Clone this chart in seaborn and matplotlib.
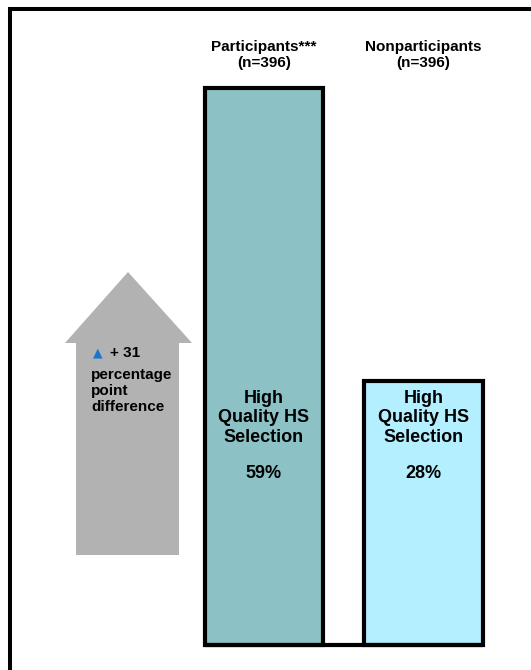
import pandas as pd
import seaborn as sns
import matplotlib.pyplot as plt
import matplotlib.transforms as mtransforms
from matplotlib.patches import Polygon
from matplotlib.lines import Line2D

groups = ['Participants***\n(n=396)', 'Nonparticipants\n(n=396)']
pct = [59, 28]
bar_text = 'High\nQuality HS\nSelection'
diff_value = '+ 31'
diff_text = 'percentage\npoint\ndifference'
colors = ['#8CC2C5', '#B3EFFF']

df = pd.DataFrame({'group': groups, 'pct': pct})

sns.set_style('white')
plt.rcParams['font.family'] = ['Liberation Sans', 'DejaVu Sans']
plt.rcParams['text.color'] = 'black'

W, H = 531, 670
fig = plt.figure(figsize=(W / 100, H / 100), dpi=100)
ax = fig.add_axes([0, 0, 1, 1])
sns.barplot(data=df, x='group', y='pct', hue='group', palette=colors, saturation=1,
            width=0.74, edgecolor='black', linewidth=3, legend=False, ax=ax)
ax.set_xlim(-1.655, 1.674)
ax.set_ylim(-2.65, 68.3)
ax.axis('off')

# baseline joining the two bars
ax.plot([-0.37, 1.37], [0, 0], color='black', lw=3, solid_capstyle='butt', zorder=1)

def fy(y):
    return 1 - y / H

def fx(x):
    return x / W

mix = mtransforms.blended_transform_factory(ax.transData, fig.transFigure)

for i, g in enumerate(groups):
    ax.text(i, fy(55), g, transform=mix, ha='center', va='center',
            fontsize=11, fontweight='bold', linespacing=1.25)
    ax.text(i, fy(418), bar_text, transform=mix, ha='center', va='center',
            fontsize=13, fontweight='bold', linespacing=1.2)
    ax.text(i, fy(473), f'{pct[i]}%', transform=mix, ha='center', va='center',
            fontsize=13, fontweight='bold')

# grey arrow on the left
arrow_px = [(76, 555), (76, 343), (65, 343), (128, 272), (192, 343), (179, 343), (179, 555)]
arrow = Polygon([(fx(x), fy(y)) for x, y in arrow_px], closed=True,
                facecolor='#B2B2B2', edgecolor='none', transform=fig.transFigure)
fig.patches.append(arrow)

fig.text(fx(97.5), fy(353), '\u25B2', color='#1A75CF', fontsize=9,
         family=['DejaVu Sans'], ha='center', va='center')
fig.text(fx(110), fy(353), diff_value, fontsize=11, fontweight='bold', va='center')
fig.text(fx(91), fy(391), diff_text, fontsize=11, fontweight='bold', va='center',
         linespacing=1.2)

# frame lines top and left
fig.lines.append(Line2D([fx(8), 1], [fy(9), fy(9)], color='black', lw=2.9,
                        solid_capstyle='butt', transform=fig.transFigure))
fig.lines.append(Line2D([fx(10), fx(10)], [fy(7.5), 0], color='black', lw=2.9,
                        solid_capstyle='butt', transform=fig.transFigure))

fig.savefig('out.png', dpi=100)
